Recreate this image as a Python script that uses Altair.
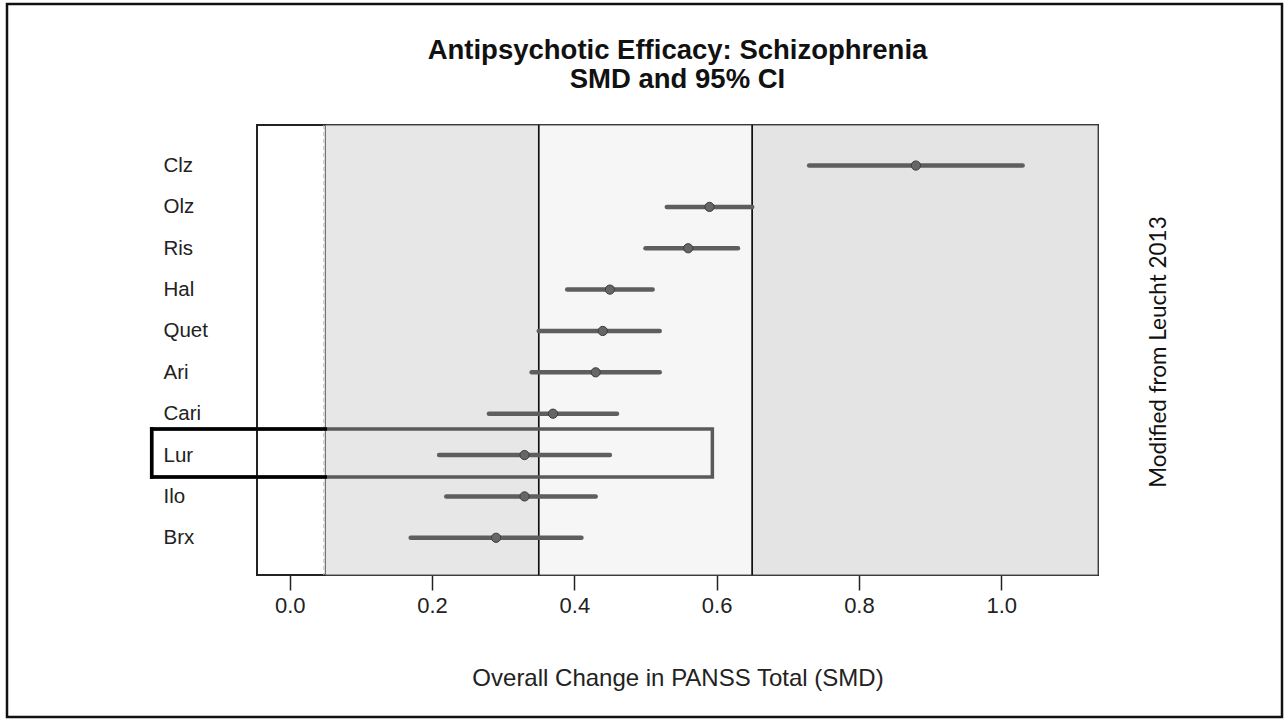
import altair as alt
import pandas as pd

# ---- data ----
drugs = ["Clz", "Olz", "Ris", "Hal", "Quet", "Ari", "Cari", "Lur", "Ilo", "Brx"]
smd = [0.88, 0.59, 0.56, 0.45, 0.44, 0.43, 0.37, 0.33, 0.33, 0.29]
ci_low = [0.73, 0.53, 0.50, 0.39, 0.35, 0.34, 0.28, 0.21, 0.22, 0.17]
ci_high = [1.03, 0.65, 0.63, 0.51, 0.52, 0.52, 0.46, 0.45, 0.43, 0.41]
x_ticks = [0.0, 0.2, 0.4, 0.6, 0.8, 1.0]
band_from = [0.05, 0.35, 0.65]
band_to = [0.35, 0.65, 1.136]
band_fill = ["#e7e7e7", "#f6f6f6", "#e4e4e4"]
edge_lines = [0.35, 0.65]
highlight = "Lur"
note = "Modified from Leucht 2013"
title_lines = ["Antipsychotic Efficacy: Schizophrenia", "SMD and 95% CI"]
x_title = "Overall Change in PANSS Total (SMD)"

n = len(drugs)
rows = [n - i for i in range(n)]
XDOM = [-0.046, 1.136]
YDOM = [0.1, 10.98]
W, H = 841, 450

df = pd.DataFrame({"drug": drugs, "row": rows, "smd": smd, "lo": ci_low, "hi": ci_high})
bands = pd.DataFrame({"x": band_from, "x2": band_to, "fill": band_fill,
                      "y": [YDOM[0]] * 3, "y2": [YDOM[1]] * 3})
edges = pd.DataFrame({"x": edge_lines})

hrow = rows[drugs.index(highlight)]
bx, bx2, by, by2 = -0.194, 0.594, hrow - 0.53, hrow + 0.63
box = pd.DataFrame({"x": [bx], "x2": [bx2], "y": [by], "y2": [by2]})
box_black = pd.DataFrame({
    "x": [bx, bx, bx], "x2": [0.05, 0.05, bx],
    "y": [by, by2, by], "y2": [by, by2, by2]})

xs = alt.Scale(domain=XDOM, nice=False, zero=False)
ys = alt.Scale(domain=YDOM, nice=False, zero=False)

label_expr = "[" + ",".join("'%s'" % d for d in reversed(drugs)) + "][datum.value - 1]"

FONT = "Liberation Sans"

base_x = alt.X("x:Q", scale=xs, axis=alt.Axis(
    values=x_ticks, format=".1f", title=x_title, grid=False, domain=False,
    tickSize=15, tickColor="#222", tickWidth=1.5, labelFontSize=22, labelFont=FONT,
    labelColor="#222", labelPadding=5, titleFont=FONT, titleFontSize=24,
    titleFontWeight="normal", titleColor="#222", titlePadding=50))
base_y = alt.Y("y:Q", scale=ys, axis=alt.Axis(
    values=list(range(1, n + 1)), labelExpr=label_expr, title=None, grid=False,
    domain=False, ticks=False, tickSize=0, labelAlign="left", labelPadding=94,
    labelFontSize=20.5, labelFont=FONT, labelColor="#222", labelBaseline="middle"))

band_layer = alt.Chart(bands).mark_rect(stroke="#555", strokeWidth=1).encode(
    x=base_x, x2="x2:Q", y=base_y, y2="y2:Q",
    fill=alt.Fill("fill:N", scale=None))

dash_layer = alt.Chart(pd.DataFrame({"x": [band_from[0]]})).mark_rule(
    color="#bdbdbd", strokeDash=[4, 3], strokeWidth=1, xOffset=-1.5).encode(
    x=alt.X("x:Q", scale=xs))

edge_layer = alt.Chart(edges).mark_rule(color="#111", strokeWidth=1.6).encode(
    x=alt.X("x:Q", scale=xs))

box_layer = alt.Chart(box).mark_rect(fill=None, fillOpacity=0, stroke="#5a5a5a",
                                     strokeWidth=3.5).encode(
    x=alt.X("x:Q", scale=xs), x2="x2:Q", y=alt.Y("y:Q", scale=ys), y2="y2:Q")

box_black_layer = alt.Chart(box_black).mark_rule(color="#000", strokeWidth=3.5,
                                                 strokeCap="square").encode(
    x=alt.X("x:Q", scale=xs), x2="x2:Q", y=alt.Y("y:Q", scale=ys), y2="y2:Q")

ci_layer = alt.Chart(df).mark_rule(color="#5e5e5e", strokeWidth=4.5, strokeCap="round").encode(
    x=alt.X("lo:Q", scale=xs), x2="hi:Q", y=alt.Y("row:Q", scale=ys))

pt_layer = alt.Chart(df).mark_point(shape="circle", filled=True, size=85, color="#666",
                                    stroke="#3c3c3c", strokeWidth=1, opacity=1).encode(
    x=alt.X("smd:Q", scale=xs), y=alt.Y("row:Q", scale=ys))

title_df = pd.DataFrame({"t": title_lines, "dy": [-74, -45]})
title_layer = alt.Chart(title_df).mark_text(
    font=FONT, fontSize=27.5, fontWeight="bold", color="#111", align="center",
    baseline="middle").encode(x=alt.value(W / 2), y=alt.Y("dy:Q", scale=None), text="t:N")

note_layer = alt.Chart(pd.DataFrame({"t": [note]})).mark_text(
    angle=270, font="Lato", fontSize=22.5, color="#111", align="center",
    baseline="middle").encode(x=alt.value(902), y=alt.value(227), text="t:N")

frame_layer = alt.Chart(pd.DataFrame({"a": [0]})).mark_rect(
    fill=None, fillOpacity=0, stroke="#111", strokeWidth=2.5).encode(
    x=alt.value(-250), x2=alt.value(1025), y=alt.value(-121), y2=alt.value(592))

chart = alt.layer(
    band_layer, dash_layer, edge_layer, box_layer, ci_layer, pt_layer,
    box_black_layer, title_layer, note_layer, frame_layer
).properties(
    width=W, height=H,
    padding={"left": 257, "top": 125, "right": 188, "bottom": 146},
    autosize=alt.AutoSizeParams(type="none"),
    background="white",
).configure_view(stroke="#222", strokeWidth=2)

chart.save("out.html", embed_options={"renderer": "svg", "actions": False})
